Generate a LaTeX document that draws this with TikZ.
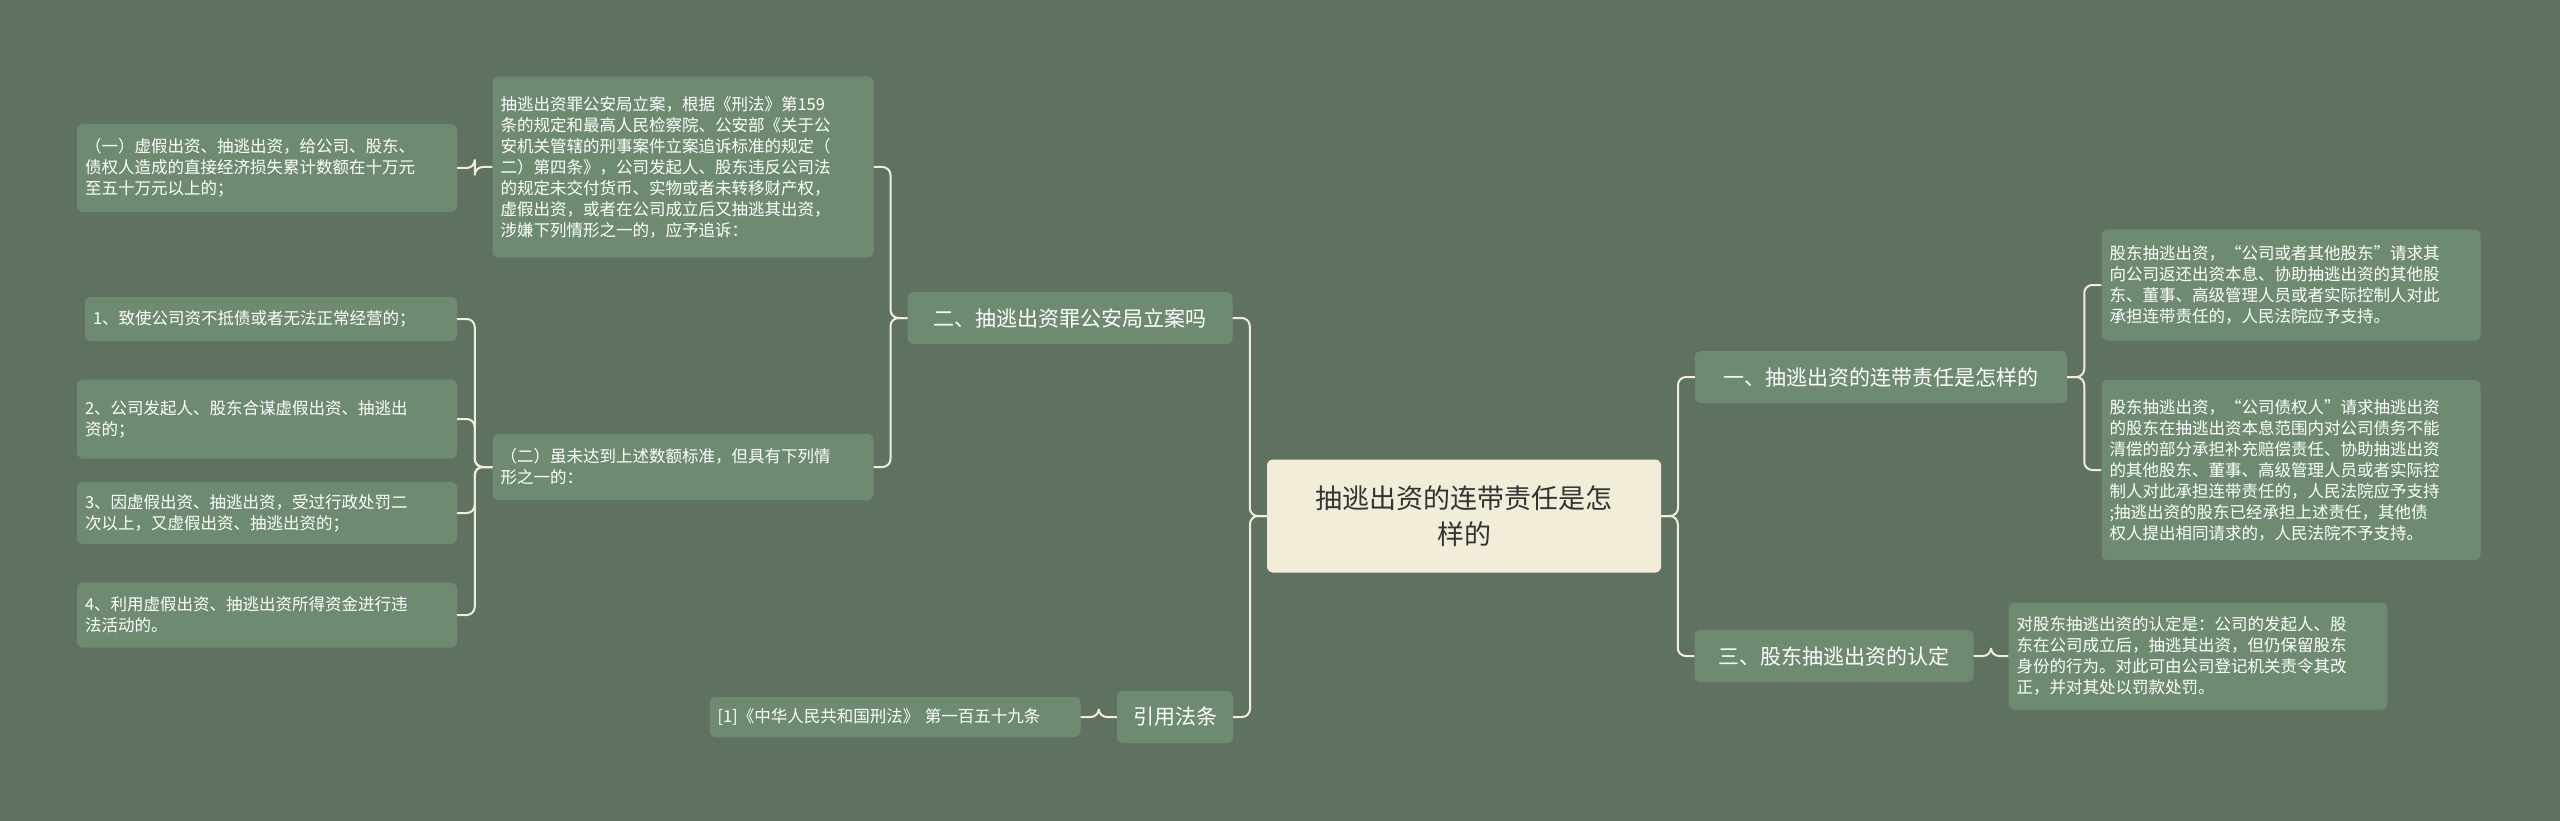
\documentclass[tikz,border=0pt]{standalone}
\usepackage{fontspec}
\setmainfont{Noto Sans CJK SC}
\usetikzlibrary{calc}
\definecolor{bg}{HTML}{5F7262}
\definecolor{nodefill}{HTML}{6E8B72}
\definecolor{cream}{HTML}{F2EDD9}
\definecolor{ctext}{HTML}{333333}
\tikzset{
 leaf/.style={fill=nodefill,rounded corners=6pt,text=white,inner sep=8pt,align=left,font=\fontsize{16.5}{21}\selectfont,minimum height=#1},
 leaf/.default=30pt,
 branch/.style={fill=nodefill,rounded corners=6pt,text=white,inner sep=8pt,align=center,font=\fontsize{21}{26}\selectfont,minimum height=52pt},
 root/.style={fill=cream,rounded corners=6pt,text=ctext,inner sep=10pt,align=center,font=\fontsize{27}{36}\selectfont,minimum width=394pt,minimum height=113pt},
 conn/.style={draw=cream,line width=2pt,rounded corners=8pt}
}
\newcommand{\lconn}[2]{\draw[conn] (#1.west) -| ($(#1.west)!.5!(#2.east)$) |- (#2.east);}
\newcommand{\rconn}[2]{\draw[conn] (#1.east) -| ($(#1.east)!.5!(#2.west)$) |- (#2.west);}
\begin{document}
\begin{tikzpicture}[x=1pt,y=-1pt]
\fill[bg] (0,0) rectangle (2560,821);
\useasboundingbox (0,0) rectangle (2560,821);
\node[root] (c) at (1464,516) {抽逃出资的连带责任是怎\\样的};
\node[branch,minimum width=372pt] (b1) at (1881,377) {一、抽逃出资的连带责任是怎样的};
\node[leaf=111pt,text width=363pt] (r1) at (2291,285) {股东抽逃出资，“公司或者其他股东”请求其\\向公司返还出资本息、协助抽逃出资的其他股\\东、董事、高级管理人员或者实际控制人对此\\承担连带责任的，人民法院应予支持。};
\node[leaf=180pt,text width=363pt] (r2) at (2291,470) {股东抽逃出资，“公司债权人”请求抽逃出资\\的股东在抽逃出资本息范围内对公司债务不能\\清偿的部分承担补充赔偿责任、协助抽逃出资\\的其他股东、董事、高级管理人员或者实际控\\制人对此承担连带责任的，人民法院应予支持\\;抽逃出资的股东已经承担上述责任，其他债\\权人提出相同请求的，人民法院不予支持。};
\node[branch,minimum width=279pt] (b3) at (1834,656) {三、股东抽逃出资的认定};
\node[leaf=107pt,text width=363pt] (r3) at (2198,656) {对股东抽逃出资的认定是：公司的发起人、股\\东在公司成立后，抽逃其出资，但仍保留股东\\身份的行为。对此可由公司登记机关责令其改\\正，并对其处以罚款处罚。};
\node[branch,minimum width=325pt] (b2) at (1070,318) {二、抽逃出资罪公安局立案吗};
\node[branch,minimum width=116pt] (b4) at (1175,717) {引用法条};
\node[leaf=40pt,text width=355pt] (ref) at (895,717) {[1]《中华人民共和国刑法》 第一百五十九条};
\node[leaf=181pt,text width=365pt] (top) at (683,167) {抽逃出资罪公安局立案，根据《刑法》第159\\条的规定和最高人民检察院、公安部《关于公\\安机关管辖的刑事案件立案追诉标准的规定（\\二）第四条》，公司发起人、股东违反公司法\\的规定未交付货币、实物或者未转移财产权，\\虚假出资，或者在公司成立后又抽逃其出资，\\涉嫌下列情形之一的，应予追诉：};
\node[leaf=66pt,text width=365pt] (two) at (683,467) {（二）虽未达到上述数额标准，但具有下列情\\形之一的：};
\node[leaf=88pt,text width=364pt] (one) at (267,168) {（一）虚假出资、抽逃出资，给公司、股东、\\债权人造成的直接经济损失累计数额在十万元\\至五十万元以上的；};
\node[leaf=44pt,text width=356pt] (i1) at (271,319) {1、致使公司资不抵债或者无法正常经营的；};
\node[leaf=79pt,text width=364pt] (i2) at (267,419) {2、公司发起人、股东合谋虚假出资、抽逃出\\资的；};
\node[leaf=62pt,text width=364pt] (i3) at (267,513) {3、因虚假出资、抽逃出资，受过行政处罚二\\次以上，又虚假出资、抽逃出资的；};
\node[leaf=65pt,text width=364pt] (i4) at (267,615) {4、利用虚假出资、抽逃出资所得资金进行违\\法活动的。};
\rconn{c}{b1}
\rconn{c}{b3}
\rconn{b1}{r1}
\rconn{b1}{r2}
\rconn{b3}{r3}
\lconn{c}{b2}
\lconn{c}{b4}
\lconn{b4}{ref}
\lconn{b2}{top}
\lconn{b2}{two}
\lconn{top}{one}
\lconn{two}{i1}
\lconn{two}{i2}
\lconn{two}{i3}
\lconn{two}{i4}
\end{tikzpicture}
\end{document}
